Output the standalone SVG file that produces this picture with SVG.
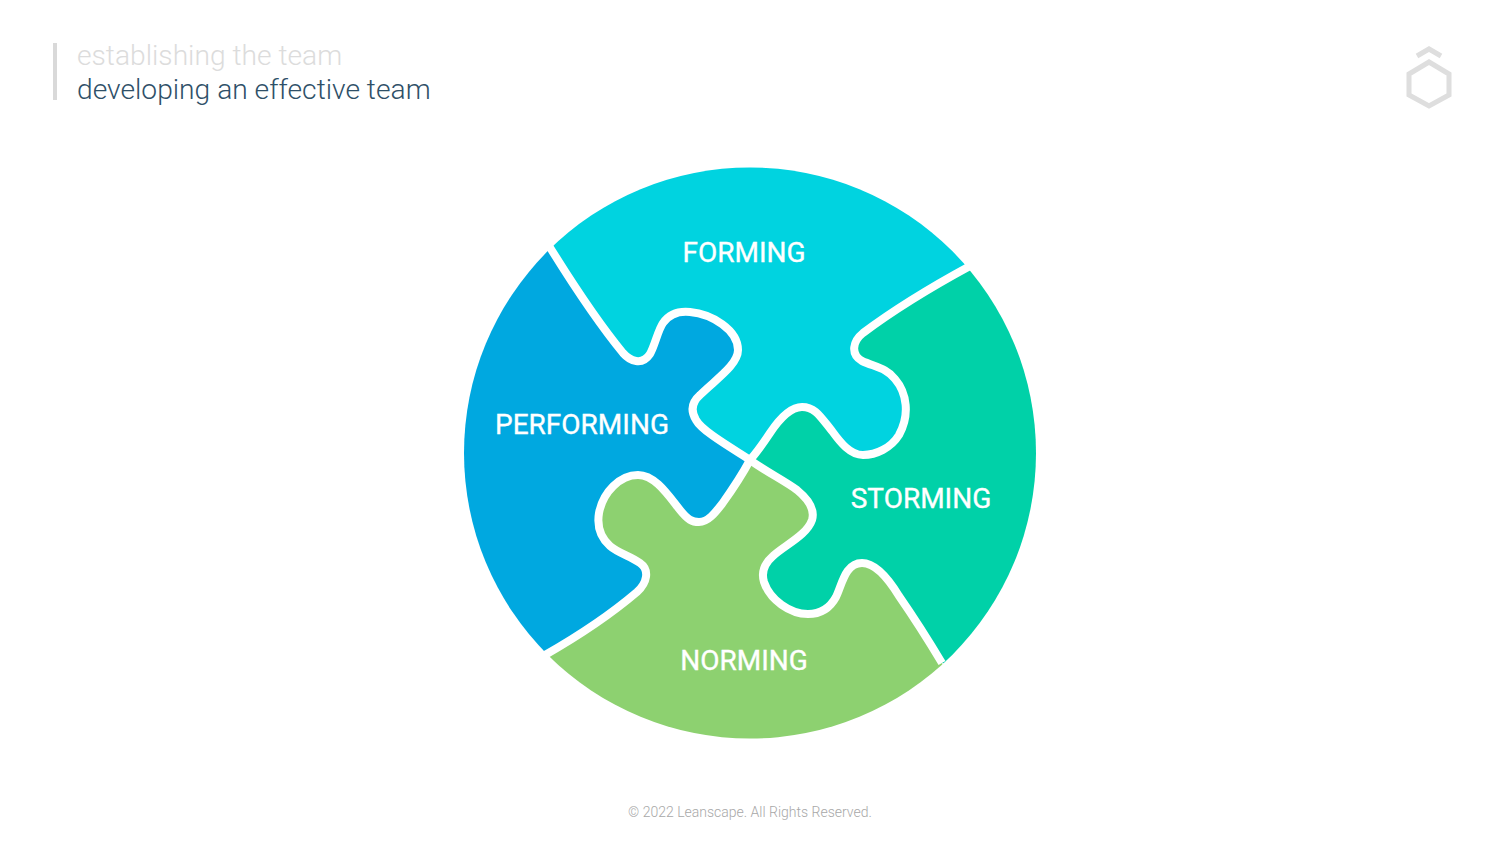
<svg xmlns="http://www.w3.org/2000/svg" width="1500" height="844" viewBox="0 0 1500 844">
<style>
.title{font-family:Roboto,"Liberation Sans",sans-serif;font-weight:300;font-size:28.2px}
.lab{font-family:Roboto,"Liberation Sans",sans-serif;font-weight:400;font-size:28px;fill:#fff;stroke:#fff;stroke-width:.35;text-anchor:middle}
.seam{fill:none;stroke:#fff;stroke-width:8;stroke-linecap:butt}
.icon{fill:none;stroke:#dedede;stroke-width:5}
</style>
<defs><clipPath id="disc"><ellipse cx="750" cy="453" rx="286" ry="285.5"/></clipPath></defs>
<rect width="1500" height="844" fill="#fff"/>
<g id="header">
<rect x="53" y="43" width="4" height="57" fill="#d9d9d9"/>
<text class="title" x="77" y="65" fill="#dcdcdc">establishing the team</text>
<text class="title" x="77" y="98.5" fill="#2f5068">developing an effective team</text>
</g>
<g id="logo">
<path class="icon" d="M1429 62L1449 74V95L1429 106L1409 95V74Z"/>
<path class="icon" d="M1417 56L1429 49L1441 56"/>
</g>
<g id="performing">
<path clip-path="url(#disc)" fill="#00a8e0" d="M546 241C570 280 600 325 623 353C630 361 642 366 650 354C655 345 658 330 663 323C670 313 680 311 690 312C712 314 738 330 738 350C738 365 715 380 700 395C692 402 690 410 696 420C702 431 730 447 750 460C742 475 732 490 722 504C715 513 708 522 699 522C692 522 688 520 680 510C668 495 655 475 638 475C620 475 603 492 599 513C597 525 600 537 610 546C618 553 630 556 640 563C650 570 647 583 637 592C610 615 580 635 545 655L400 700V200Z"/>
<text class="lab" x="582" y="434">PERFORMING</text>
</g>
<g id="forming">
<path clip-path="url(#disc)" fill="#00d3e0" d="M546 241C570 280 600 325 623 353C630 361 642 366 650 354C655 345 658 330 663 323C670 313 680 311 690 312C712 314 738 330 738 350C738 365 715 380 700 395C692 402 690 410 696 420C702 431 730 447 750 460C757 452 764 442 770 433C778 421 790 407 802 407C815 407 820 416 832 431C840 442 850 455 863 455C876 455 891 448 899 435C910 415 907 393 895 379C887 368 875 367 862 361C850 354 853 341 863 333C895 309 935 285 970 266L1100 100H400Z"/>
<text class="lab" x="744" y="262">FORMING</text>
</g>
<g id="storming">
<path clip-path="url(#disc)" fill="#00d1a8" d="M970 266C935 285 895 309 863 333C853 341 850 354 862 361C875 367 887 368 895 379C907 393 910 415 899 435C891 448 876 455 863 455C850 455 840 442 832 431C820 416 815 407 802 407C790 407 778 421 770 433C764 442 757 452 750 460C765 471 785 481 797 490C808 499 815 510 812 520C807 535 785 545 773 556C765 563 761 572 764 582C770 600 790 614 808 614C820 614 830 608 836 597C842 585 845 563 862 563C875 563 888 578 899 596C917 622 930 643 942 663L1100 700V200Z"/>
<text class="lab" x="921" y="508">STORMING</text>
</g>
<g id="norming">
<path clip-path="url(#disc)" fill="#8dd170" d="M750 460C765 471 785 481 797 490C808 499 815 510 812 520C807 535 785 545 773 556C765 563 761 572 764 582C770 600 790 614 808 614C820 614 830 608 836 597C842 585 845 563 862 563C875 563 888 578 899 596C917 622 930 643 942 663L1000 800H500L545 655C580 635 610 615 637 592C647 583 650 570 640 563C630 556 618 553 610 546C600 537 597 525 599 513C603 492 620 475 638 475C655 475 668 495 680 510C688 520 692 522 699 522C708 522 715 513 722 504C732 490 742 475 750 460Z"/>
<text class="lab" x="744" y="670">NORMING</text>
</g>
<g id="connectors">
<path class="seam" d="M546 241C570 280 600 325 623 353C630 361 642 366 650 354C655 345 658 330 663 323C670 313 680 311 690 312C712 314 738 330 738 350C738 365 715 380 700 395C692 402 690 410 696 420C702 431 730 447 750 460"/>
<path class="seam" d="M970 266C935 285 895 309 863 333C853 341 850 354 862 361C875 367 887 368 895 379C907 393 910 415 899 435C891 448 876 455 863 455C850 455 840 442 832 431C820 416 815 407 802 407C790 407 778 421 770 433C764 442 757 452 750 460"/>
<path class="seam" d="M750 460C765 471 785 481 797 490C808 499 815 510 812 520C807 535 785 545 773 556C765 563 761 572 764 582C770 600 790 614 808 614C820 614 830 608 836 597C842 585 845 563 862 563C875 563 888 578 899 596C917 622 930 643 942 663"/>
<path class="seam" d="M545 655C580 635 610 615 637 592C647 583 650 570 640 563C630 556 618 553 610 546C600 537 597 525 599 513C603 492 620 475 638 475C655 475 668 495 680 510C688 520 692 522 699 522C708 522 715 513 722 504C732 490 742 475 750 460"/>
</g>
<text id="footer" x="750" y="817" text-anchor="middle" font-family="Roboto,'Liberation Sans',sans-serif" font-weight="300" font-size="14" fill="#a8a8a8">© 2022 Leanscape. All Rights Reserved.</text>
</svg>
